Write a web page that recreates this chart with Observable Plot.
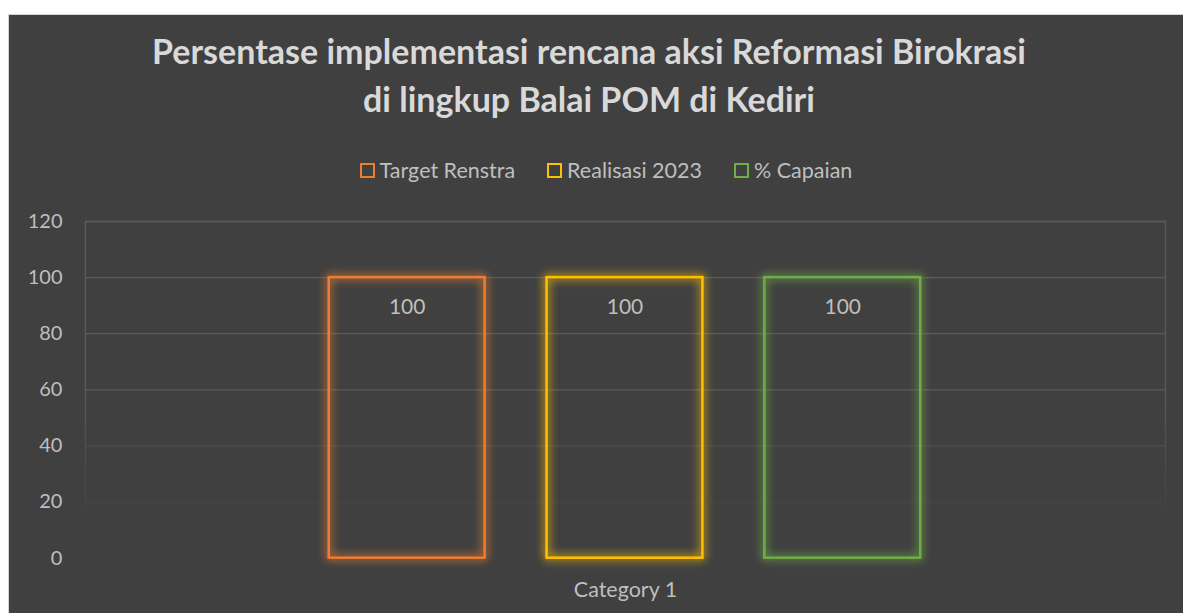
<!DOCTYPE html>
<html>
<head>
<meta charset="utf-8">
<script src="https://cdn.jsdelivr.net/npm/d3@7"></script>
<script src="https://cdn.jsdelivr.net/npm/@observablehq/plot@0.6"></script>
<style>
  html, body { margin: 0; padding: 0; background: #ffffff; }
  #panel {
    position: absolute; left: 8px; top: 14px; width: 1175px; height: 599px;
    background: #404040; overflow: hidden;
    border-top: 1px solid #d4d4d4; border-left: 1px solid #d4d4d4; box-sizing: border-box;
    font-family: Lato, "Open Sans", sans-serif;
  }
  #title {
    position: absolute; left: -7px; width: 100%; top: 12px;
    text-align: center; color: #d9d9d9; font-weight: bold; font-size: 34px; line-height: 48px;
  }
  #legend {
    position: absolute; left: 10px; width: 100%; top: 141px; height: 28px;
    display: flex; justify-content: center; align-items: center; gap: 32px;
    color: #bfbfbf; font-size: 21.5px;
  }
  .item { display: flex; align-items: center; gap: 5px; }
  .sw { width: 11px; height: 11px; border: 2px solid; }
  #chart { position: absolute; left: 0; top: 186px; }
</style>
</head>
<body>
<div id="panel">
  <div id="title">Persentase implementasi rencana aksi Reformasi Birokrasi<br>di lingkup Balai POM di Kediri</div>
  <div id="legend"></div>
  <div id="chart"></div>
</div>
<script>
const categories = ["Category 1"];
const series = ["Target Renstra", "Realisasi 2023", "% Capaian"];
const values = [100, 100, 100];
const colors = ["#ED7D31", "#FFC000", "#70AD47"];
const yTicks = [0, 20, 40, 60, 80, 100, 120];

const data = series.map((s, i) => ({category: categories[0], series: s, value: values[i]}));

// legend
const legend = document.getElementById("legend");
series.forEach((s, i) => {
  const it = document.createElement("div");
  it.className = "item";
  const sw = document.createElement("div");
  sw.className = "sw";
  sw.style.borderColor = colors[i];
  const t = document.createElement("span");
  t.textContent = s;
  it.appendChild(sw); it.appendChild(t);
  legend.appendChild(it);
});

const plot = Plot.plot({
  width: 1175, height: 413,
  marginTop: 20, marginBottom: 56, marginLeft: 76, marginRight: 18,
  style: {background: "transparent", color: "#bfbfbf", fontFamily: "Lato, 'Open Sans', sans-serif", fontSize: "20px"},
  fx: {domain: categories, padding: 0, label: null},
  x: {domain: series, paddingInner: 0.284, paddingOuter: 1.12, axis: null},
  y: {domain: [0, 120], ticks: yTicks, label: null},
  color: {domain: series, range: colors},
  marks: [
    Plot.ruleY(yTicks, {stroke: "#5b5b5b", strokeWidth: 1.3, strokeOpacity: d => d >= 60 ? 1 : d === 40 ? 0.55 : d === 20 ? 0.18 : 0}),
    Plot.frame({stroke: "url(#frameGrad)", strokeWidth: 1.3}),
    Plot.axisY({ticks: yTicks, tickSize: 0, tickPadding: 23, fontSize: 20, fill: "#bfbfbf", label: null}),
    Plot.axisFx({anchor: "bottom", tickSize: 0, tickPadding: 24, fontSize: 21.5, fill: "#bfbfbf", label: null}),
    Plot.barY(data, {fx: "category", x: "series", y: "value", stroke: "series", fill: "none", strokeWidth: 2.5, inset: 0}),
    Plot.text(data, {fx: "category", x: "series", y: "value", text: d => String(d.value), dy: 30, fill: "#bfbfbf", fontSize: 21})
  ]
});

const svg = d3.select(plot);
const defs = svg.insert("defs", ":first-child");
const g = defs.append("linearGradient").attr("id", "frameGrad").attr("x1", 0).attr("y1", 0).attr("x2", 0).attr("y2", 1);
[[0, 1], [0.5, 1], [0.68, 0.5], [0.84, 0.12], [0.9, 0]].forEach(([o, a]) =>
  g.append("stop").attr("offset", o).attr("stop-color", "#5b5b5b").attr("stop-opacity", a));
const f = defs.append("filter").attr("id", "glow").attr("x", "-20%").attr("y", "-20%").attr("width", "140%").attr("height", "140%");
f.append("feGaussianBlur").attr("in", "SourceGraphic").attr("stdDeviation", 5).attr("result", "blur");
f.append("feComponentTransfer").attr("in", "blur").attr("result", "blur2")
  .append("feFuncA").attr("type", "linear").attr("slope", 1.6);
const m = f.append("feMerge");
m.append("feMergeNode").attr("in", "blur2");
m.append("feMergeNode").attr("in", "SourceGraphic");
svg.selectAll("g[aria-label='bar'] rect").attr("filter", "url(#glow)");

document.getElementById("chart").appendChild(plot);
</script>
</body>
</html>
